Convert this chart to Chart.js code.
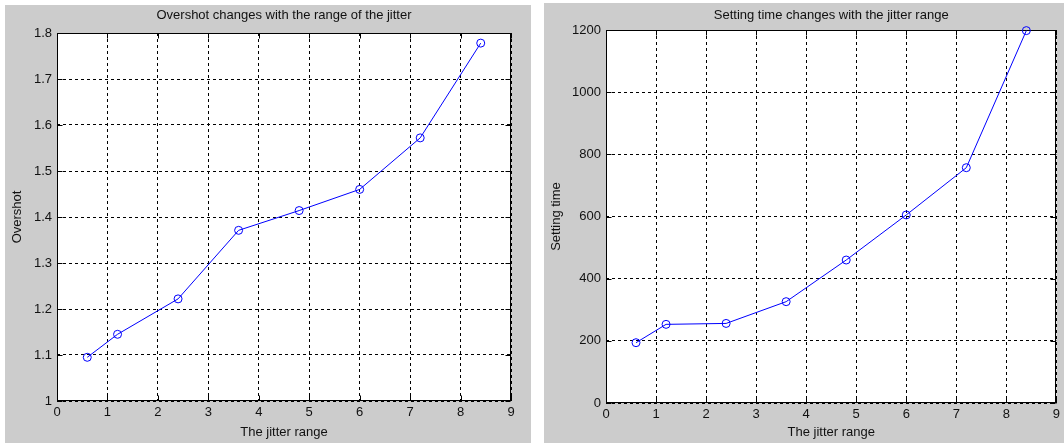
<!DOCTYPE html>
<html>
<head>
<meta charset="utf-8">
<script src="https://cdn.jsdelivr.net/npm/chart.js@4/dist/chart.umd.min.js"></script>
<style>
  html, body { margin:0; padding:0; background:#ffffff; width:1064px; height:443px; overflow:hidden; }
  .panel { position:absolute; background:#cccccc; }
  #p1 { left:5px; top:5px; width:526px; height:438px; }
  #p2 { left:544px; top:3px; width:520px; height:440px; }
  canvas { display:block; }
</style>
</head>
<body>
<div class="panel" id="p1"><canvas id="c1" width="526" height="438"></canvas></div>
<div class="panel" id="p2"><canvas id="c2" width="520" height="440"></canvas></div>
<script>
// ---- data ----
const jitterRange = [0.6, 1.2, 2.4, 3.6, 4.8, 6.0, 7.2, 8.4];
const overshoot = [1.095, 1.145, 1.222, 1.371, 1.414, 1.460, 1.572, 1.778];
const settingTime = [194, 253, 256, 326, 460, 605, 757, 1198];
const xTicks = [0, 1, 2, 3, 4, 5, 6, 7, 8, 9];
const overshootTicks = [1, 1.1, 1.2, 1.3, 1.4, 1.5, 1.6, 1.7, 1.8];
const timeTicks = [0, 200, 400, 600, 800, 1000, 1200];
const titles = ['Overshot changes with the range of the jitter', 'Setting time changes with the jitter range'];
const yTitles = ['Overshot', 'Setting time'];
const xTitle = 'The jitter range';

const FONT = '"Liberation Sans", Arial, Helvetica, sans-serif';
const TXT = '#111111';

const framePlugin = {
  id: 'frame',
  beforeDraw(chart) {
    const a = chart.chartArea, ctx = chart.ctx;
    ctx.save();
    ctx.fillStyle = '#ffffff';
    ctx.fillRect(a.left, a.top, a.right - a.left, a.bottom - a.top);
    ctx.restore();
  },
  beforeDatasetsDraw(chart) {
    const a = chart.chartArea, ctx = chart.ctx;
    const xs = chart.scales.x, ys = chart.scales.y;
    ctx.save();
    ctx.strokeStyle = '#000000';
    ctx.lineWidth = 1;
    ctx.setLineDash([]);
    const L = Math.round(a.left) + 0.5, R = Math.round(a.right) - 0.5;
    const T = Math.round(a.top) + 0.5, B = Math.round(a.bottom) - 0.5;
    ctx.strokeRect(L, T, R - L, B - T);
    const tl = 5;
    ctx.beginPath();
    xs.ticks.forEach(t => {
      const p = Math.round(xs.getPixelForValue(t.value)) + 0.5;
      ctx.moveTo(p, B); ctx.lineTo(p, B - tl);
      ctx.moveTo(p, T); ctx.lineTo(p, T + tl);
    });
    ys.ticks.forEach(t => {
      const p = Math.round(ys.getPixelForValue(t.value)) + 0.5;
      ctx.moveTo(L, p); ctx.lineTo(L + tl, p);
      ctx.moveTo(R, p); ctx.lineTo(R - tl, p);
    });
    ctx.stroke();
    ctx.restore();
  }
};

function makeChart(id, yVals, yTicks, idx, geo) {
  const yMin = yTicks[0], yMax = yTicks[yTicks.length - 1];
  return new Chart(document.getElementById(id), {
    type: 'line',
    data: {
      datasets: [{
        data: jitterRange.map((x, i) => ({ x: x, y: yVals[i] })),
        borderColor: '#0000ff',
        borderWidth: 1,
        tension: 0,
        fill: false,
        pointStyle: 'circle',
        pointRadius: 4,
        pointBorderWidth: 1,
        pointBorderColor: '#0000ff',
        pointBackgroundColor: 'rgba(0,0,0,0)',
        clip: false
      }]
    },
    options: {
      responsive: false,
      animation: false,
      events: [],
      layout: { padding: { left: 0, right: geo.padRight, top: 0, bottom: 0 } },
      plugins: {
        legend: { display: false },
        tooltip: { enabled: false },
        title: { display: false }
      },
      scales: {
        x: {
          type: 'linear',
          min: xTicks[0],
          max: xTicks[xTicks.length - 1],
          afterBuildTicks: s => { s.ticks = xTicks.map(v => ({ value: v })); },
          afterFit: s => { s.height = geo.xHeight; },
          grid: { color: '#000000', lineWidth: 1, drawTicks: false },
          border: { display: false, dash: [3, 3] },
          ticks: {
            color: TXT, padding: 4, maxRotation: 0, autoSkip: false,
            font: { family: FONT, size: 13 },
            callback: v => String(v)
          },
          title: {
            display: true, text: xTitle, color: TXT,
            font: { family: FONT, size: 13 },
            padding: { top: 0, bottom: 3 }
          }
        },
        xTop: {
          type: 'linear',
          position: 'top',
          min: xTicks[0],
          max: xTicks[xTicks.length - 1],
          afterFit: s => { s.height = geo.topHeight; },
          grid: { display: false, drawTicks: false },
          border: { display: false },
          ticks: { display: false },
          title: {
            display: true, text: titles[idx], color: TXT,
            font: { family: FONT, size: 13 },
            padding: { top: geo.titleTop, bottom: 0 }
          }
        },
        y: {
          type: 'linear',
          min: yMin,
          max: yMax,
          afterBuildTicks: s => { s.ticks = yTicks.map(v => ({ value: v })); },
          afterFit: s => { s.width = geo.yWidth; },
          grid: { color: '#000000', lineWidth: 1, drawTicks: false },
          border: { display: false, dash: [3, 3] },
          ticks: {
            color: TXT, padding: 5, autoSkip: false,
            font: { family: FONT, size: 13 },
            callback: v => String(v)
          },
          title: {
            display: true, text: yTitles[idx], color: TXT,
            font: { family: FONT, size: 13 },
            padding: { top: 5, bottom: 0 }
          }
        }
      }
    },
    plugins: [framePlugin]
  });
}

makeChart('c1', overshoot, overshootTicks, 0,
  { padRight: 20, titleTop: 3, topHeight: 28, xHeight: 42, yWidth: 52 });
makeChart('c2', settingTime, timeTicks, 1,
  { padRight: 6, titleTop: 5, topHeight: 27, xHeight: 40, yWidth: 62 });
</script>
</body>
</html>
